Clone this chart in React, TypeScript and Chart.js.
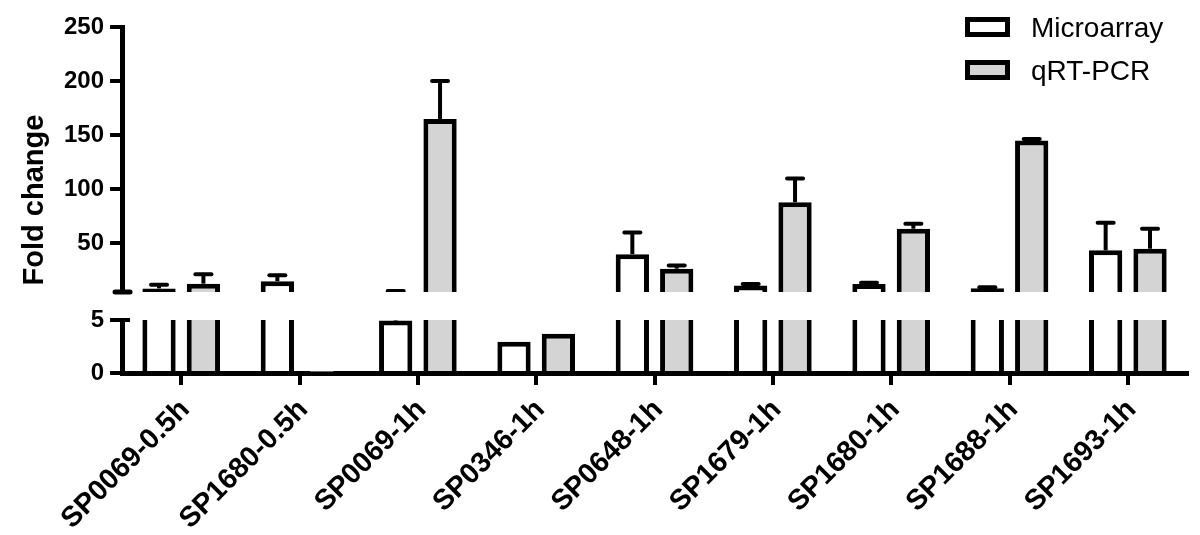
import React, { useEffect, useRef } from 'react';
import { Chart, registerables } from 'chart.js';

Chart.register(...registerables);

const categories = [
  'SP0069-0.5h',
  'SP1680-0.5h',
  'SP0069-1h',
  'SP0346-1h',
  'SP0648-1h',
  'SP1679-1h',
  'SP1680-1h',
  'SP1688-1h',
  'SP1693-1h',
];
const microarrayValues = [8.3, 15, 4.95, 2.95, 40, 11, 12.5, 8.5, 43.5];
const microarrayErrors = [3.5, 5.5, 1, 0, 20, 1.5, 1, 0.8, 25.5];
const qpcrValues = [12.7, 0.1, 165, 3.7, 26.5, 88, 63.5, 145, 45];
const qpcrErrors = [8.6, 0, 35, 0, 3, 22, 4.5, 1.5, 18.5];

const upperTicks = [50, 100, 150, 200, 250];
const lowerTicks = [0, 5];
const breakValue = 5;
const upperMax = 250;

const seriesNames = ['Microarray', 'qRT-PCR'];
const seriesFills = ['#ffffff', '#d4d4d4'];
const yTitle = 'Fold change';

const FONT = "'Liberation Sans', Arial, Helvetica, sans-serif";

const clipPlugin = {
  id: 'segmentClip',
  beforeDatasetDraw(chart: any, args: any) {
    const meta = args.meta;
    const ys = chart.scales[meta.yAxisID];
    const ctx = chart.ctx;
    ctx.save();
    ctx.beginPath();
    ctx.rect(chart.chartArea.left, ys.top, chart.chartArea.right - chart.chartArea.left, ys.bottom - ys.top);
    ctx.clip();
  },
  afterDatasetDraw(chart: any) {
    chart.ctx.restore();
  },
};

const errorBarPlugin = {
  id: 'errorBars',
  afterDatasetsDraw(chart: any) {
    const ctx = chart.ctx;
    chart.data.datasets.forEach((ds: any, i: number) => {
      const meta = chart.getDatasetMeta(i);
      const errs: number[] = ds.errorBars;
      if (!errs) return;
      const ys = chart.scales[meta.yAxisID];
      ctx.save();
      ctx.beginPath();
      ctx.rect(chart.chartArea.left, ys.top, chart.chartArea.right - chart.chartArea.left, ys.bottom - ys.top);
      ctx.clip();
      ctx.strokeStyle = '#000';
      meta.data.forEach((bar: any, j: number) => {
        const e = errs[j];
        if (!e) return;
        const v = ds.data[j];
        const y0 = ys.getPixelForValue(v);
        const y1 = ys.getPixelForValue(v + e);
        ctx.lineWidth = 4;
        ctx.lineCap = 'butt';
        ctx.beginPath();
        ctx.moveTo(bar.x, y0);
        ctx.lineTo(bar.x, y1);
        ctx.stroke();
        ctx.lineCap = 'round';
        ctx.beginPath();
        ctx.moveTo(bar.x - 8, y1);
        ctx.lineTo(bar.x + 8, y1);
        ctx.stroke();
      });
      ctx.restore();
    });
  },
};

const decorPlugin = {
  id: 'decor',
  afterDraw(chart: any) {
    const ctx = chart.ctx;
    const upper = chart.scales.y;
    const lower = chart.scales.y2;
    const area = chart.chartArea;
    const ax = area.left;
    ctx.save();
    ctx.fillStyle = '#000';
    ctx.strokeStyle = '#000';
    // axis break marks
    ctx.lineCap = 'round';
    ctx.lineWidth = 5;
    ctx.beginPath();
    ctx.moveTo(ax - 7, upper.bottom);
    ctx.lineTo(ax + 8, upper.bottom);
    ctx.stroke();
    ctx.lineWidth = 4;
    ctx.lineCap = 'butt';
    ctx.beginPath();
    ctx.moveTo(ax, lower.top);
    ctx.lineTo(ax + 8, lower.top);
    ctx.stroke();

    // y title
    ctx.save();
    ctx.translate(43, (upper.top + lower.bottom) / 2);
    ctx.rotate(-Math.PI / 2);
    ctx.font = `bold 29px ${FONT}`;
    ctx.textAlign = 'center';
    ctx.textBaseline = 'alphabetic';
    ctx.fillText(yTitle, 0, 0);
    ctx.restore();

    // legend
    const boxLeft = area.right - 222;
    seriesNames.forEach((name, k) => {
      const cy = 27 + k * 43;
      ctx.fillStyle = seriesFills[k];
      ctx.fillRect(boxLeft, cy - 10, 45, 20);
      ctx.lineWidth = 5;
      ctx.strokeStyle = '#000';
      ctx.strokeRect(boxLeft + 2.5, cy - 7.5, 40, 15);
      ctx.fillStyle = '#000';
      ctx.font = `28px ${FONT}`;
      ctx.textAlign = 'left';
      ctx.textBaseline = 'middle';
      ctx.fillText(name, boxLeft + 66, cy + 2);
    });
    ctx.restore();
  },
};

export default function App() {
  const ref = useRef<HTMLCanvasElement>(null);
  useEffect(() => {
    document.body.style.margin = '0';
    document.body.style.overflow = 'hidden';
    const canvas = ref.current!;
    const makeSet = (k: number, values: number[], errors: number[], axis: string) => ({
      label: seriesNames[k],
      data: values,
      errorBars: errors,
      backgroundColor: seriesFills[k],
      borderColor: '#000',
      borderWidth: 5,
      borderSkipped: 'start',
      yAxisID: axis,
      stack: 's' + k,
      base: 0,
      clip: 0,
      categoryPercentage: 0.75,
      barPercentage: 0.75,
    });
    const tickFont = { family: FONT, size: 24, weight: 'bold' as const };
    const chart = new Chart(canvas, {
      type: 'bar',
      data: {
        labels: categories,
        datasets: [
          makeSet(0, microarrayValues, microarrayErrors, 'y'),
          makeSet(1, qpcrValues, qpcrErrors, 'y'),
          makeSet(0, microarrayValues, microarrayErrors, 'y2'),
          makeSet(1, qpcrValues, qpcrErrors, 'y2'),
        ] as any,
      },
      options: {
        responsive: false,
        animation: false,
        devicePixelRatio: 1,
        layout: { padding: { top: 27, left: 58, right: 13, bottom: 0 } },
        plugins: { legend: { display: false }, tooltip: { enabled: false } },
        scales: {
          x: {
            type: 'category',
            offset: true,
            grid: { display: true, drawOnChartArea: false, offset: false, drawTicks: true, tickLength: 12, lineWidth: 4, color: '#000' },
            border: { display: true, width: 5, color: '#000' },
            ticks: {
              autoSkip: false,
              minRotation: 45,
              maxRotation: 45,
              padding: 8,
              labelOffset: 4,
              color: '#000',
              font: { family: FONT, size: 28.5, weight: 'bold' },
            },
            afterFit: (s: any) => {
              s.paddingRight = 0;
              s.height = 162;
            },
          },
          y2: {
            type: 'linear',
            position: 'left',
            stack: 'left',
            stackWeight: 53,
            stacked: false,
            min: 0,
            max: breakValue,
            grid: { display: true, drawOnChartArea: false, drawTicks: true, tickLength: 12, lineWidth: 4, color: '#000' },
            border: { display: true, width: 5, color: '#000' },
            ticks: { color: '#000', padding: 6, font: tickFont },
            afterBuildTicks: (s: any) => {
              s.ticks = lowerTicks.map((v) => ({ value: v }));
            },
          },
          ygap: {
            type: 'linear',
            axis: 'y',
            position: 'left',
            stack: 'left',
            stackWeight: 28,
            display: false,
            min: 0,
            max: 1,
          },
          y: {
            type: 'linear',
            position: 'left',
            stack: 'left',
            stackWeight: 265,
            stacked: false,
            min: breakValue,
            max: upperMax,
            grid: { display: true, drawOnChartArea: false, drawTicks: true, tickLength: 12, lineWidth: 4, color: '#000' },
            border: { display: true, width: 5, color: '#000' },
            ticks: { color: '#000', padding: 6, font: tickFont },
            afterBuildTicks: (s: any) => {
              s.ticks = upperTicks.map((v) => ({ value: v }));
            },
          },
        } as any,
      },
      plugins: [clipPlugin, errorBarPlugin, decorPlugin],
    });
    return () => chart.destroy();
  }, []);
  return (
    <div style={{ width: 1200, height: 535 }}>
      <canvas ref={ref} width={1200} height={535} style={{ display: 'block' }} />
    </div>
  );
}
